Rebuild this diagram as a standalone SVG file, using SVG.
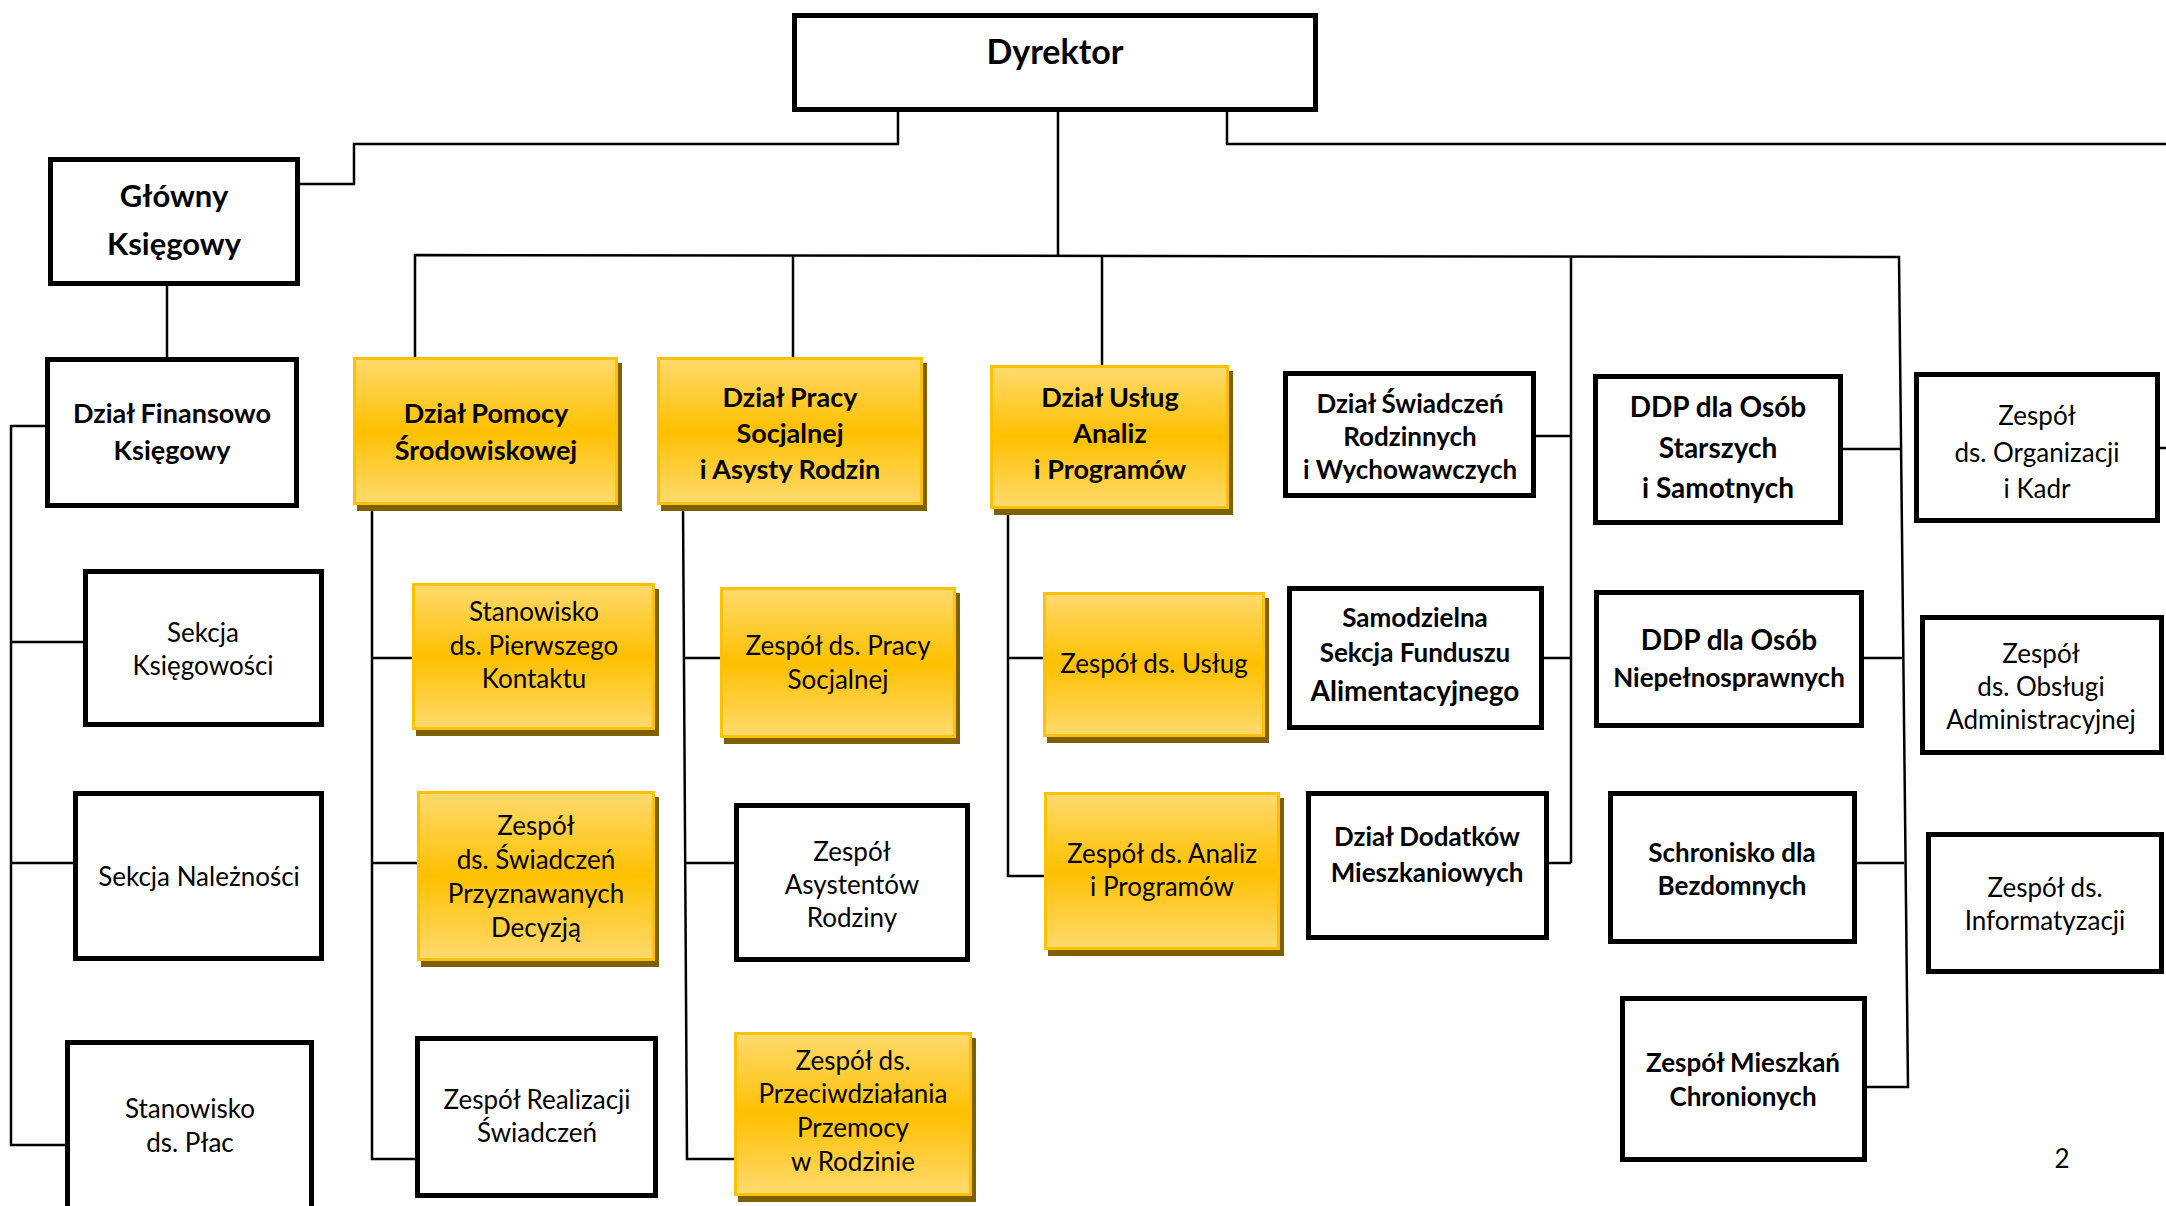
<svg xmlns="http://www.w3.org/2000/svg" width="2166" height="1206" viewBox="0 0 2166 1206">
<defs>
<linearGradient id="yg" x1="0" y1="0" x2="0" y2="1">
<stop offset="0" stop-color="#FFDA6E"/>
<stop offset="0.5" stop-color="#FFC000"/>
<stop offset="1" stop-color="#FFDA6E"/>
</linearGradient>
<style>
.wb{fill:#fff;stroke:#000;stroke-width:5}
.yb{fill:url(#yg);stroke:#FFC000;stroke-width:3}
.sh{fill:#7F6000}
.c{fill:none;stroke:#000;stroke-width:2.5}
text{font-family:"Comic Sans MS","Lato","Noto Sans",sans-serif;fill:#000;text-anchor:middle}
.b{font-weight:bold;font-size:26px}
.n{font-size:26px}
.h{font-weight:bold;font-size:27px}
</style>
</defs>
<rect width="2166" height="1206" fill="#fff"/>
<g id="connectors">
<polyline class="c" points="898,112 898,144 354,144 354,184 300,184"/>
<polyline class="c" points="1227,112 1227,144 2166,144"/>
<line class="c" x1="1058" y1="112" x2="1058" y2="256"/>
<polyline class="c" points="415,357 415,255 1899,257 1908,1087 1867,1087"/>
<line class="c" x1="793" y1="256" x2="793" y2="357"/>
<line class="c" x1="1102" y1="256" x2="1102" y2="365"/>
<line class="c" x1="1571" y1="256" x2="1571" y2="863"/>
<line class="c" x1="167" y1="286" x2="167" y2="357"/>
<polyline class="c" points="46,426 11,426 11,1145 65,1145"/>
<line class="c" x1="11" y1="642" x2="83" y2="642"/>
<line class="c" x1="11" y1="863" x2="73" y2="863"/>
<polyline class="c" points="372,505 372,1159 415,1159"/>
<line class="c" x1="372" y1="658" x2="412" y2="658"/>
<line class="c" x1="372" y1="863" x2="417" y2="863"/>
<polyline class="c" points="683,505 687,1159 734,1159"/>
<line class="c" x1="684" y1="658" x2="720" y2="658"/>
<line class="c" x1="685" y1="863" x2="734" y2="863"/>
<polyline class="c" points="1008,512 1008,876 1044,876"/>
<line class="c" x1="1008" y1="658" x2="1043" y2="658"/>
<line class="c" x1="1536" y1="436" x2="1571" y2="436"/>
<line class="c" x1="1544" y1="658" x2="1571" y2="658"/>
<line class="c" x1="1549" y1="863" x2="1571" y2="863"/>
<line class="c" x1="1843" y1="449" x2="1900" y2="449"/>
<line class="c" x1="1864" y1="658" x2="1902" y2="658"/>
<line class="c" x1="1857" y1="863" x2="1904" y2="863"/>
<line class="c" x1="2160" y1="448" x2="2166" y2="448"/>
</g>
<g id="dyrektor"><rect class="wb" x="794.5" y="15.5" width="521" height="94"/><text x="1055" y="64" style="font-weight:bold;font-size:34px">Dyrektor</text></g>
<g id="glowny-ksiegowy"><rect class="wb" x="50.5" y="159.5" width="247" height="124"/><text x="174" y="207" style="font-weight:bold;font-size:31px">Główny</text><text x="174" y="255" style="font-weight:bold;font-size:31px">Księgowy</text></g>
<g id="dzial-finansowo"><rect class="wb" x="47.5" y="359.5" width="249" height="146"/><text class="h" x="172" y="423">Dział Finansowo</text><text class="h" x="172" y="460">Księgowy</text></g>
<g id="sekcja-ksiegowosci"><rect class="wb" x="85.5" y="571.5" width="236" height="153"/><text class="n" x="203" y="642">Sekcja</text><text class="n" x="203" y="675">Księgowości</text></g>
<g id="sekcja-naleznosci"><rect class="wb" x="75.5" y="793.5" width="246" height="165"/><text class="n" x="199" y="886">Sekcja Należności</text></g>
<g id="stanowisko-plac"><rect class="wb" x="67.5" y="1042.5" width="244" height="170"/><text class="n" x="190" y="1118">Stanowisko</text><text class="n" x="190" y="1152">ds. Płac</text></g>

<g id="dzial-pomocy"><rect class="sh" x="357" y="363" width="265" height="148"/><rect class="yb" x="354.5" y="358.5" width="262" height="145"/><text class="h" x="486" y="423">Dział Pomocy</text><text class="h" x="486" y="460">Środowiskowej</text></g>
<g id="stanowisko-kontaktu"><rect class="sh" x="416" y="589" width="243" height="147"/><rect class="yb" x="413.5" y="584.5" width="240" height="144"/><text class="n" x="534" y="621">Stanowisko</text><text class="n" x="534" y="655">ds. Pierwszego</text><text class="n" x="534" y="688">Kontaktu</text></g>
<g id="zespol-swiadczen-decyzja"><rect class="sh" x="421" y="797" width="238" height="170"/><rect class="yb" x="418.5" y="792.5" width="235" height="167"/><text class="n" x="536" y="835">Zespół</text><text class="n" x="536" y="869">ds. Świadczeń</text><text class="n" x="536" y="903">Przyznawanych</text><text class="n" x="536" y="937">Decyzją</text></g>
<g id="zespol-realizacji"><rect class="wb" x="417.5" y="1038.5" width="238" height="157"/><text class="n" x="537" y="1109">Zespół Realizacji</text><text class="n" x="537" y="1142">Świadczeń</text></g>

<g id="dzial-pracy"><rect class="sh" x="661" y="363" width="266" height="148"/><rect class="yb" x="658.5" y="358.5" width="263" height="145"/><text class="h" x="790" y="407">Dział Pracy</text><text class="h" x="790" y="443">Socjalnej</text><text class="h" x="790" y="479">i Asysty Rodzin</text></g>
<g id="zespol-pracy-socjalnej"><rect class="sh" x="724" y="593" width="236" height="151"/><rect class="yb" x="721.5" y="588.5" width="233" height="148"/><text class="n" x="838" y="655">Zespół ds. Pracy</text><text class="n" x="838" y="689">Socjalnej</text></g>
<g id="zespol-asystentow"><rect class="wb" x="736.5" y="805.5" width="231" height="154"/><text class="n" x="852" y="861">Zespół</text><text class="n" x="852" y="894">Asystentów</text><text class="n" x="852" y="927">Rodziny</text></g>
<g id="zespol-przemocy"><rect class="sh" x="738" y="1038" width="238" height="164"/><rect class="yb" x="735.5" y="1033.5" width="235" height="161"/><text class="n" x="853" y="1070">Zespół ds.</text><text class="n" x="853" y="1103">Przeciwdziałania</text><text class="n" x="853" y="1137">Przemocy</text><text class="n" x="853" y="1171">w Rodzinie</text></g>

<g id="dzial-uslug"><rect class="sh" x="994" y="371" width="239" height="144"/><rect class="yb" x="991.5" y="366.5" width="236" height="141"/><text class="h" x="1110" y="407">Dział Usług</text><text class="h" x="1110" y="443">Analiz</text><text class="h" x="1110" y="479">i Programów</text></g>
<g id="zespol-uslug"><rect class="sh" x="1047" y="598" width="222" height="145"/><rect class="yb" x="1044.5" y="593.5" width="219" height="142"/><text class="n" x="1154" y="673">Zespół ds. Usług</text></g>
<g id="zespol-analiz"><rect class="sh" x="1048" y="798" width="236" height="158"/><rect class="yb" x="1045.5" y="793.5" width="233" height="155"/><text class="n" x="1162" y="863">Zespół ds. Analiz</text><text class="n" x="1162" y="896">i Programów</text></g>

<g id="dzial-swiadczen-rodzinnych"><rect class="wb" x="1285.5" y="373.5" width="248" height="122"/><text class="b" x="1410" y="413">Dział Świadczeń</text><text class="b" x="1410" y="446">Rodzinnych</text><text class="b" x="1410" y="479">i Wychowawczych</text></g>
<g id="samodzielna-sekcja"><rect class="wb" x="1289.5" y="588.5" width="252" height="139"/><text class="b" x="1415" y="627">Samodzielna</text><text class="b" x="1415" y="662">Sekcja Funduszu</text><text x="1415" y="701" style="font-weight:bold;font-size:28px">Alimentacyjnego</text></g>
<g id="dzial-dodatkow"><rect class="wb" x="1308.5" y="793.5" width="238" height="144"/><text class="b" x="1427" y="846">Dział Dodatków</text><text class="b" x="1427" y="882">Mieszkaniowych</text></g>

<g id="ddp-starszych"><rect class="wb" x="1595.5" y="376.5" width="245" height="146"/><text x="1718" y="417" style="font-weight:bold;font-size:28px">DDP dla Osób</text><text x="1718" y="458" style="font-weight:bold;font-size:28px">Starszych</text><text x="1718" y="498" style="font-weight:bold;font-size:28px">i Samotnych</text></g>
<g id="ddp-niepelnosprawnych"><rect class="wb" x="1596.5" y="592.5" width="265" height="133"/><text x="1729" y="650" style="font-weight:bold;font-size:28px">DDP dla Osób</text><text class="b" x="1729" y="687">Niepełnosprawnych</text></g>
<g id="schronisko"><rect class="wb" x="1610.5" y="793.5" width="244" height="148"/><text class="b" x="1732" y="862">Schronisko dla</text><text class="b" x="1732" y="895">Bezdomnych</text></g>
<g id="zespol-mieszkan"><rect class="wb" x="1622.5" y="998.5" width="242" height="161"/><text class="b" x="1743" y="1072">Zespół Mieszkań</text><text class="b" x="1743" y="1106">Chronionych</text></g>

<g id="zespol-organizacji"><rect class="wb" x="1916.5" y="374.5" width="241" height="146"/><text class="n" x="2037" y="425">Zespół</text><text class="n" x="2037" y="462">ds. Organizacji</text><text class="n" x="2037" y="498">i Kadr</text></g>
<g id="zespol-obslugi"><rect class="wb" x="1922.5" y="617.5" width="239" height="135"/><text class="n" x="2041" y="663">Zespół</text><text class="n" x="2041" y="696">ds. Obsługi</text><text class="n" x="2041" y="729">Administracyjnej</text></g>
<g id="zespol-informatyzacji"><rect class="wb" x="1928.5" y="834.5" width="233" height="137"/><text class="n" x="2045" y="897">Zespół ds.</text><text class="n" x="2045" y="930">Informatyzacji</text></g>
<text class="n" x="2062" y="1168">2</text>
</svg>
